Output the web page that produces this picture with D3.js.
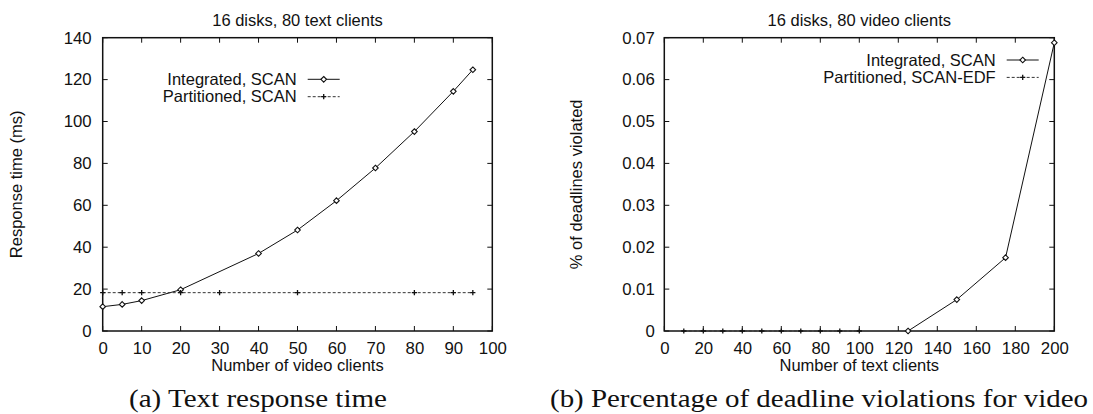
<!DOCTYPE html>
<html>
<head>
<meta charset="utf-8">
<script src="https://cdn.jsdelivr.net/npm/d3@7"></script>
<style>
  body { margin: 0; background: #fff; }
  svg text { font-family: "Liberation Sans", Arial, sans-serif; fill: #111; }
  .caption { font-family: "Liberation Serif", "Times New Roman", serif; }
</style>
</head>
<body>
<svg id="chart" width="1093" height="414"></svg>
<script>
// (a) text response time vs number of video clients
const videoClientsInt = [0, 5, 10, 20, 40, 50, 60, 70, 80, 90, 95];
const respIntegrated = [11.6, 12.7, 14.5, 19.7, 37, 48.2, 62.2, 77.8, 95.2, 114.4, 124.7];
const videoClientsPart = [0, 5, 10, 20, 30, 50, 80, 90, 95];
const respPartitioned = [18.3, 18.3, 18.3, 18.3, 18.3, 18.3, 18.3, 18.3, 18.3];
const xTicksA = [0, 10, 20, 30, 40, 50, 60, 70, 80, 90, 100];
const yTicksA = [0, 20, 40, 60, 80, 100, 120, 140];

// (b) deadline violations vs number of text clients
const textClientsInt = [125, 150, 175, 200];
const violIntegrated = [0, 0.0075, 0.0175, 0.0688];
const textClientsPart = [10, 20, 30, 40, 50, 60, 70, 80, 90, 100];
const violPartitioned = [0, 0, 0, 0, 0, 0, 0, 0, 0, 0];
const xTicksB = [0, 20, 40, 60, 80, 100, 120, 140, 160, 180, 200];
const yTicksB = [0, 0.01, 0.02, 0.03, 0.04, 0.05, 0.06, 0.07];

const svg = d3.select("#chart");
const plotTop = 37.7, plotBottom = 331;

function drawPanel(p) {
  const x = d3.scaleLinear().domain(p.xDomain).range([p.left, p.right]);
  const y = d3.scaleLinear().domain(p.yDomain).range([plotBottom, plotTop]);
  const g = svg.append("g");

  // tick marks, inward on all four sides
  p.xTicks.forEach(t => {
    g.append("line").attr("x1", x(t)).attr("x2", x(t)).attr("y1", plotBottom).attr("y2", plotBottom - 5)
      .attr("stroke", "#111");
    g.append("line").attr("x1", x(t)).attr("x2", x(t)).attr("y1", plotTop).attr("y2", plotTop + 5)
      .attr("stroke", "#111");
  });
  p.yTicks.forEach(t => {
    g.append("line").attr("x1", p.left).attr("x2", p.left + 5).attr("y1", y(t)).attr("y2", y(t))
      .attr("stroke", "#111");
    g.append("line").attr("x1", p.right).attr("x2", p.right - 5).attr("y1", y(t)).attr("y2", y(t))
      .attr("stroke", "#111");
  });

  // tick labels via d3 axis, axis lines hidden
  const xAxis = g.append("g").attr("transform", `translate(0,${plotBottom})`)
    .call(d3.axisBottom(x).tickValues(p.xTicks).tickSize(0).tickPadding(11).tickFormat(d3.format("")));
  const yAxis = g.append("g").attr("transform", `translate(${p.left},0)`)
    .call(d3.axisLeft(y).tickValues(p.yTicks).tickSize(0).tickPadding(p.yPad).tickFormat(p.yFormat));
  [xAxis, yAxis].forEach(a => {
    a.select(".domain").remove();
    a.selectAll("text").attr("font-size", 16.8).attr("font-family", "Liberation Sans, Arial, sans-serif")
      .attr("fill", "#111");
  });

  g.append("rect").attr("x", p.left).attr("y", plotTop)
    .attr("width", p.right - p.left).attr("height", plotBottom - plotTop)
    .attr("fill", "none").attr("stroke", "#111").attr("stroke-width", 1.5);

  // titles
  const cx = (p.left + p.right) / 2;
  g.append("text").attr("x", cx).attr("y", 26).attr("text-anchor", "middle")
    .attr("font-size", 16.5).text(p.title);
  g.append("text").attr("x", cx).attr("y", 371).attr("text-anchor", "middle")
    .attr("font-size", 16.5).text(p.xLabel);
  g.append("text").attr("transform", `translate(${p.yLabelX},${(plotTop + plotBottom) / 2}) rotate(-90)`)
    .attr("text-anchor", "middle").attr("dy", "0.35em").attr("font-size", 16.5).text(p.yLabel);
  g.append("text").attr("class", "caption").attr("x", p.captionX).attr("y", 407)
    .attr("text-anchor", "middle").attr("font-size", 26)
    .attr("textLength", p.captionWidth).attr("lengthAdjust", "spacingAndGlyphs")
    .text(p.caption);

  const line = d3.line().x(d => x(d[0])).y(d => y(d[1]));

  // series
  p.series.forEach((s, i) => {
    const pts = d3.zip(s.xs, s.ys);
    g.append("path").datum(pts).attr("d", line).attr("fill", "none")
      .attr("stroke", s.dashed ? "#333" : "#111").attr("stroke-width", 1)
      .attr("stroke-dasharray", s.dashed ? "3,2" : null);
    pts.forEach(d => drawMarker(g, x(d[0]), y(d[1]), s.marker));

    // legend entry
    const ly = p.legendY + i * 17.4;
    g.append("text").attr("x", p.legendX).attr("y", ly).attr("dy", "0.35em")
      .attr("text-anchor", "end").attr("font-size", 16.5).text(s.name);
    g.append("line").attr("x1", p.legendX + 11).attr("x2", p.legendX + 43)
      .attr("y1", ly).attr("y2", ly).attr("stroke", s.dashed ? "#333" : "#111")
      .attr("stroke-dasharray", s.dashed ? "3,2" : null);
    drawMarker(g, p.legendX + 27, ly, s.marker);
  });
}

function drawMarker(g, cx, cy, type) {
  if (type === "diamond") {
    const r = 2.8;
    g.append("path").attr("d", `M${cx},${cy - r}L${cx + r},${cy}L${cx},${cy + r}L${cx - r},${cy}Z`)
      .attr("fill", "#fff").attr("stroke", "#111").attr("stroke-width", 1.1);
  } else {
    const r = 2.6;
    g.append("path").attr("d", `M${cx - r},${cy}H${cx + r}M${cx},${cy - r}V${cy + r}`)
      .attr("stroke", "#111").attr("stroke-width", 1.3);
  }
}

drawPanel({
  left: 102.7, right: 492.3,
  xDomain: [0, 100], yDomain: [0, 140],
  xTicks: xTicksA, yTicks: yTicksA, yFormat: d3.format(""), yPad: 11,
  title: "16 disks, 80 text clients",
  xLabel: "Number of video clients",
  yLabel: "Response time (ms)", yLabelX: 16,
  caption: "(a) Text response time", captionX: 258, captionWidth: 258,
  legendX: 296.7, legendY: 79.3,
  series: [
    { name: "Integrated, SCAN", xs: videoClientsInt, ys: respIntegrated, marker: "diamond", dashed: false },
    { name: "Partitioned, SCAN", xs: videoClientsPart, ys: respPartitioned, marker: "plus", dashed: true }
  ]
});

drawPanel({
  left: 664.3, right: 1054.3,
  xDomain: [0, 200], yDomain: [0, 0.07],
  xTicks: xTicksB, yTicks: yTicksB, yFormat: d => d === 0 ? "0" : d3.format(".2f")(d), yPad: 9.5,
  title: "16 disks, 80 video clients",
  xLabel: "Number of text clients",
  yLabel: "% of deadlines violated", yLabelX: 576,
  caption: "(b) Percentage of deadline violations for video", captionX: 819, captionWidth: 538,
  legendX: 995.7, legendY: 60,
  series: [
    { name: "Integrated, SCAN", xs: textClientsInt, ys: violIntegrated, marker: "diamond", dashed: false },
    { name: "Partitioned, SCAN-EDF", xs: textClientsPart, ys: violPartitioned, marker: "plus", dashed: true }
  ]
});
</script>
</body>
</html>
